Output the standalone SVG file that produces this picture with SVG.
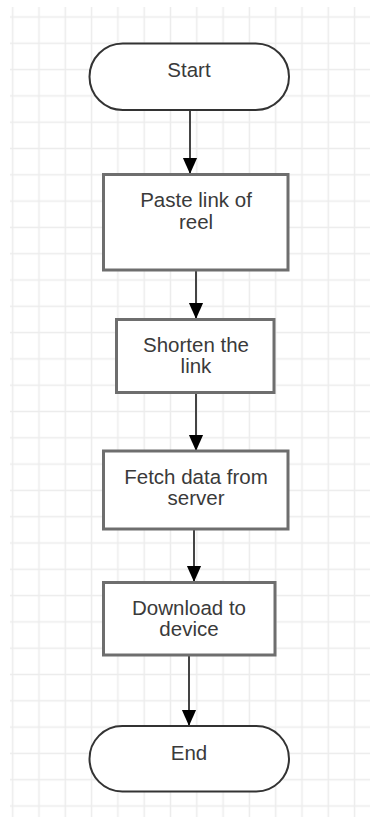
<svg xmlns="http://www.w3.org/2000/svg" width="370" height="817" viewBox="0 0 370 817">
<defs>
<pattern id="grid" patternUnits="userSpaceOnUse" x="-0.45" y="3.85" width="26.3" height="26.3">
<path d="M0 13.15 H26.3 M13.15 0 V26.3" stroke="#ececec" stroke-width="1.5" fill="none"/>
</pattern>
<marker id="arr" markerUnits="userSpaceOnUse" markerWidth="16" markerHeight="18" refX="17" refY="7.5" orient="auto" viewBox="0 0 17 15">
<path d="M0 0 L17 7.5 L0 15 Z" fill="#000"/>
</marker>
<style>
.term{fill:#fff;stroke:#333;stroke-width:2}
.proc{fill:#fff;stroke:#6e6e6e;stroke-width:3}
.lbl{font-family:"Liberation Sans",Arial,sans-serif;font-size:20.5px;fill:#3a3a3a;text-anchor:middle}
.conn{stroke:#444;stroke-width:2;fill:none;marker-end:url(#arr)}
</style>
</defs>
<rect width="370" height="817" fill="#fff"/>
<rect x="10" y="7" width="360" height="810" fill="url(#grid)"/>
<g id="connectors">
<path class="conn" d="M190 110 V174"/>
<path class="conn" d="M196 270 V319"/>
<path class="conn" d="M196 393 V451"/>
<path class="conn" d="M194 529 V582"/>
<path class="conn" d="M189 655 V726"/>
</g>
<g id="start">
<rect class="term" x="89.5" y="43.5" width="199.5" height="66.5" rx="33.25"/>
<text class="lbl" x="189" y="77">Start</text>
</g>
<g id="paste">
<rect class="proc" x="103.5" y="174.5" width="184.5" height="95.5"/>
<text class="lbl" x="196" y="207">Paste link of</text>
<text class="lbl" x="196" y="229">reel</text>
</g>
<g id="shorten">
<rect class="proc" x="116.5" y="319.5" width="157.5" height="73"/>
<text class="lbl" x="196" y="351.5">Shorten the</text>
<text class="lbl" x="196" y="372.5">link</text>
</g>
<g id="fetch">
<rect class="proc" x="103.5" y="451" width="184.5" height="78"/>
<text class="lbl" x="196" y="483.5">Fetch data from</text>
<text class="lbl" x="196" y="504.5">server</text>
</g>
<g id="download">
<rect class="proc" x="103.5" y="582.5" width="171.5" height="72.5"/>
<text class="lbl" x="189" y="614.5">Download to</text>
<text class="lbl" x="189" y="635.5">device</text>
</g>
<g id="end">
<rect class="term" x="89.5" y="726" width="199.5" height="65.5" rx="32.75"/>
<text class="lbl" x="189" y="760">End</text>
</g>
</svg>
